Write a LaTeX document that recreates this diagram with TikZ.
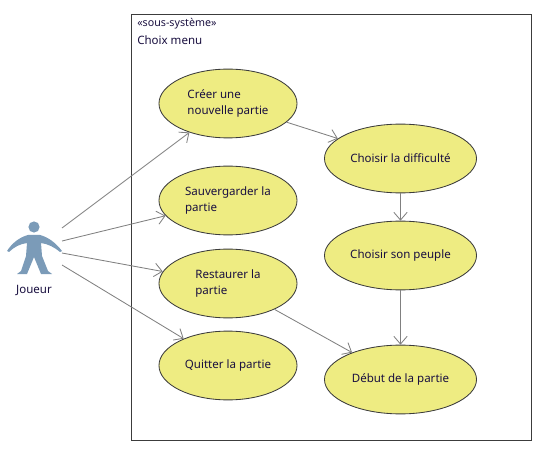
\documentclass[tikz,border=0pt]{standalone}
\usepackage{fontspec}
\setmainfont{Noto Sans}
\usetikzlibrary{arrows.meta,
                shapes.geometric
            }
\definecolor{casfond}{HTML}{EEEC82}
\definecolor{casbord}{HTML}{3C3C3C}
\definecolor{acteur}{HTML}{7B9BB8}
\definecolor{texte}{HTML}{1A1040}
\tikzset{
    cas/.style={draw=casbord, fill=casfond, ellipse, inner sep=0pt, text=texte,
        font=\fontsize{8.2}{11.4}\selectfont, align=left, line width=0.6pt},
    cascourt/.style={cas, minimum width=3.45cm, minimum height=1.72cm},
    caslong/.style={cas, minimum width=3.8cm, minimum height=1.72cm},
    fleche/.style={draw=gray, line width=0.6pt, -{Straight Barb[length=5.5pt, width=9.5pt, line width=0.6pt]}},
    legende/.style={text=texte, inner sep=0pt, anchor=west}
}
\begin{document}
\begin{tikzpicture}[x=0.025cm, y=-0.025cm]
    \useasboundingbox (0, 0) rectangle (541, 453);
    \node[draw=casbord, line width=0.7pt, minimum width=10cm, minimum height=10.65cm, inner sep=0pt] (systeme) at (331.5, 227.5) {};
    \node[legende, font=\fontsize{7.6}{9}\selectfont] (stereotype) at (137, 24) {«sous-système»};
    \node[legende, font=\fontsize{8.2}{10}\selectfont] (titre) at (137, 40) {Choix menu};

    % colonne de gauche
    \node[cascourt] (creer) at (228, 103.5) {Créer une\\nouvelle partie};
    \node[cascourt] (sauver) at (228, 200.5) {Sauvergarder la\\partie};
    \node[cascourt] (restaurer) at (228, 283.5) {Restaurer la\\partie};
    \node[cascourt] (quitter) at (228, 365.5) {Quitter la partie};

    % colonne de droite
    \node[caslong] (difficulte) at (400.5, 158.5) {Choisir la difficulté};
    \node[caslong] (peuple) at (400.5, 255.5) {Choisir son peuple};
    \node[caslong] (debut) at (400.5, 379.5) {Début de la partie};

    % acteur
    \fill[acteur] (34, 227) circle (5.6);
    \fill[acteur] (28, 235) -- (40, 235) .. controls (48, 237) and (56, 243) .. (62, 251)
        -- (60, 252) .. controls (54, 247) and (48, 244) .. (41, 243)
        -- (42, 256) -- (48, 271) -- (52, 274) -- (41, 274) -- (34, 257)
        -- (27, 274) -- (17, 274) -- (21, 271) -- (26, 256) -- (27, 243)
        .. controls (20, 244) and (14, 247) .. (9, 252) -- (7, 251)
        .. controls (12, 243) and (20, 237) .. (28, 235) -- cycle;
    \node[text=texte, inner sep=0pt, font=\fontsize{8.2}{10}\selectfont] (joueur) at (34, 290.5) {Joueur};

    \coordinate (j1) at (62, 228);
    \coordinate (j2) at (62, 241);
    \coordinate (j3) at (62, 253);
    \coordinate (j4) at (62, 265);

    \draw[fleche] (j1) -- (creer);
    \draw[fleche] (j2) -- (sauver);
    \draw[fleche] (j3) -- (restaurer);
    \draw[fleche] (j4) -- (quitter);
    \draw[fleche] (creer) -- (difficulte);
    \draw[fleche] (difficulte) -- (peuple);
    \draw[fleche] (peuple) -- (debut);
    \draw[fleche] (restaurer) -- (debut);
\end{tikzpicture}
\end{document}
